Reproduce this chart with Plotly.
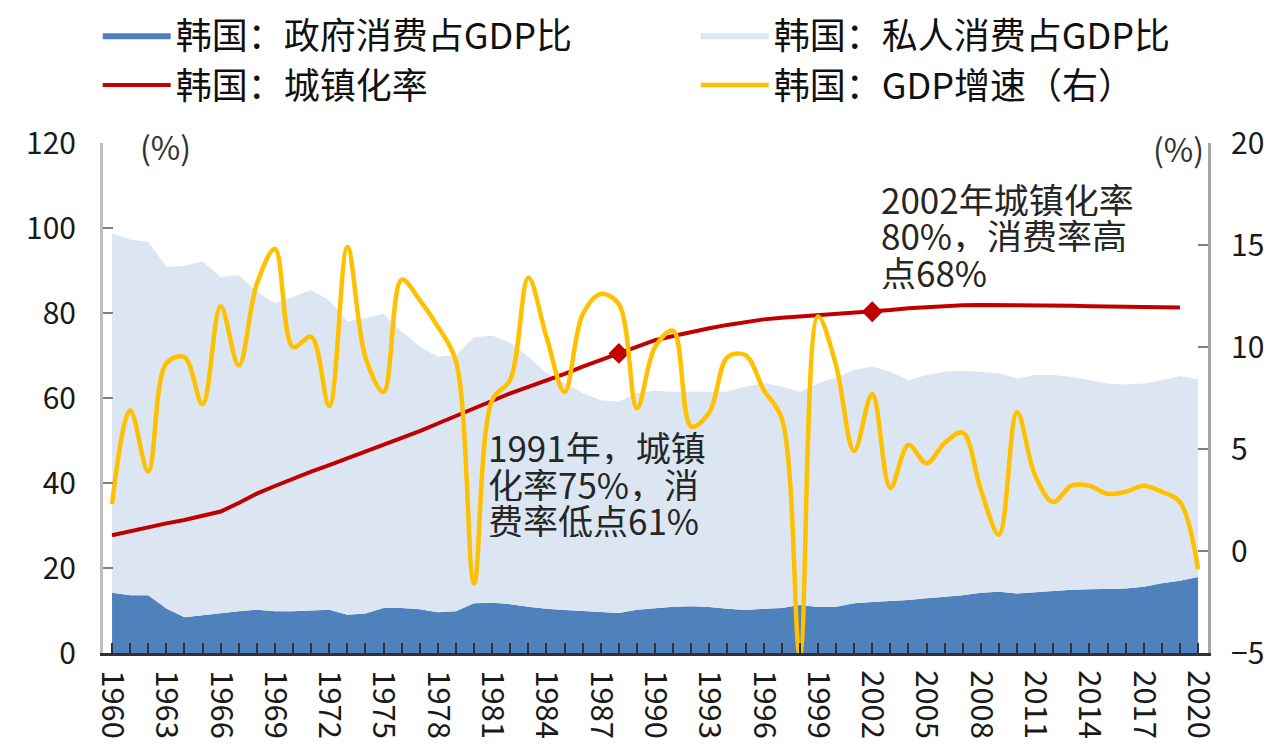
import plotly.graph_objects as go

years = list(range(1960, 2021))

gov_share = [14.2, 13.6, 13.6, 10.5, 8.4, 8.9, 9.4, 9.8, 10.2, 9.8,
             9.8, 10.0, 10.2, 9.0, 9.3, 10.6, 10.6, 10.3, 9.6, 9.8,
             11.7, 11.8, 11.5, 10.9, 10.4, 10.1, 9.9, 9.6, 9.4, 10.2,
             10.6, 10.9, 11.0, 10.8, 10.4, 10.1, 10.4, 10.6, 11.3, 10.8,
             10.9, 11.7, 12.0, 12.2, 12.5, 12.9, 13.3, 13.6, 14.2, 14.4,
             14.0, 14.3, 14.7, 14.9, 15.0, 15.1, 15.2, 15.6, 16.4, 17.0,
             17.9]

total_share = [98.7, 97.3, 96.7, 90.9, 91.1, 92.1, 88.5, 88.9, 85.0, 82.3,
               83.8, 85.4, 83.0, 78.0, 78.8, 79.8, 75.6, 72.1, 69.7, 70.1,
               74.3, 74.7, 73.0, 69.7, 65.9, 63.5, 61.2, 59.5, 59.1, 61.2,
               61.7, 61.5, 61.5, 61.4, 61.5, 62.7, 63.5, 62.7, 61.5, 63.5,
               64.8, 66.6, 67.4, 66.2, 64.2, 65.4, 66.2, 66.4, 66.2, 65.8,
               64.6, 65.4, 65.4, 65.0, 64.2, 63.4, 63.2, 63.4, 64.2, 65.2,
               64.4]

private_share = [round(t - g, 1) for t, g in zip(total_share, gov_share)]

urban_years = list(range(1960, 2020))
urban_rate = [27.7, 28.7, 29.6, 30.5, 31.3, 32.3, 33.3, 35.3, 37.5, 39.3,
              41.1, 42.7, 44.2, 45.8, 47.4, 48.9, 50.5, 52.2, 54.0, 55.8,
              57.6, 59.5, 61.1, 62.6, 64.1, 65.7, 67.4, 69.0, 70.5, 72.1,
              73.6, 74.6, 75.6, 76.4, 77.2, 77.9, 78.5, 78.9, 79.2, 79.4,
              79.6, 79.9, 80.3, 80.7, 81.1, 81.4, 81.6, 81.8, 81.9, 81.9,
              81.9, 81.9, 81.8, 81.7, 81.6, 81.5, 81.5, 81.4, 81.3, 81.3]

gdp_growth = [2.3, 6.9, 3.9, 9.2, 9.5, 7.2, 12.0, 9.1, 13.1, 14.8,
              10.0, 10.5, 7.1, 14.9, 9.5, 7.8, 13.3, 12.3, 11.0, 9.3,
              -1.6, 7.4, 8.4, 13.4, 10.5, 7.8, 11.6, 12.6, 12.1, 7.0,
              10.0, 10.8, 6.1, 6.8, 9.5, 9.6, 7.9, 6.5, -5.1, 11.5,
              9.1, 4.9, 7.7, 3.1, 5.2, 4.3, 5.3, 5.8, 3.0, 0.8,
              6.8, 3.7, 2.4, 3.2, 3.2, 2.8, 2.9, 3.2, 2.9, 2.4,
              -0.9]

marker_years = [1988, 2002]
marker_vals = [70.5, 80.3]

x_tick_vals = list(range(1960, 2021, 3))
x_tick_text = [str(v) for v in x_tick_vals]

note1_lines = ["1991年，城镇", "化率75%，消", "费率低点61%"]
note2_lines = ["2002年城镇化率", "80%，消费率高", "点68%"]

FONT = "Noto Sans CJK SC"

fig = go.Figure()

fig.add_trace(go.Scatter(
    x=years, y=gov_share, name="韩国：政府消费占GDP比",
    stackgroup="cons", mode="lines", line=dict(width=0, color="#4F81BD"),
    fillcolor="#4F81BD"))
fig.add_trace(go.Scatter(
    x=years, y=private_share, name="韩国：私人消费占GDP比",
    stackgroup="cons", mode="lines", line=dict(width=0, color="#DCE6F2"),
    fillcolor="#DCE6F2"))
fig.add_trace(go.Scatter(
    x=urban_years, y=urban_rate, name="韩国：城镇化率",
    mode="lines", line=dict(color="#C00000", width=4)))
fig.add_trace(go.Scatter(
    x=years, y=gdp_growth, name="韩国：GDP增速（右）", yaxis="y2",
    mode="lines", line=dict(color="#FFC000", width=4.5, shape="spline", smoothing=1)))
fig.add_trace(go.Scatter(
    x=marker_years, y=marker_vals, mode="markers", showlegend=False,
    marker=dict(symbol="diamond", size=16, color="#C00000")))

fig.update_layout(
    width=1267, height=742,
    margin=dict(l=95, r=67, t=135, b=97, autoexpand=False),
    paper_bgcolor="white", plot_bgcolor="white",
    font=dict(family=FONT, size=30, color="#1a1a1a"),
    showlegend=True,
    legend=dict(
        orientation="h", x=-0.0048, xanchor="left", y=1.27, yanchor="top",
        entrywidth=515, entrywidthmode="pixels", itemwidth=68,
        font=dict(family=FONT, size=36, color="#111111"),
        bgcolor="rgba(0,0,0,0)", traceorder="normal",
    ),
    xaxis=dict(
        range=[1959.5, 2020.55], tickmode="array", tickvals=x_tick_vals,
        ticktext=x_tick_text, tickangle=90, ticks="inside", ticklen=10,
        tickwidth=2, tickcolor="#2b3340", automargin=False,
        minor=dict(dtick=1, tick0=1960, ticks="inside", ticklen=10, tickwidth=2, tickcolor="#2b3340"),
        showline=True, linecolor="#2b3340", linewidth=3,
        showgrid=False, zeroline=False,
        tickfont=dict(family=FONT, size=31, color="#1a1a1a"),
        ticklabelstandoff=8,
    ),
    yaxis=dict(
        range=[0, 120], dtick=20, ticks="inside", ticklen=10, tickwidth=2,
        tickcolor="#808080", showline=True, linecolor="#BFBFBF", linewidth=3,
        showgrid=False, zeroline=False, automargin=False,
        tickfont=dict(family=FONT, size=30, color="#1a1a1a"),
        ticklabelstandoff=18,
    ),
    yaxis2=dict(
        range=[-5, 20], dtick=5, overlaying="y", side="right", ticks="inside",
        ticklen=10, tickwidth=2, tickcolor="#808080", showline=True,
        linecolor="#A6A6A6", linewidth=3, showgrid=False, zeroline=False,
        automargin=False,
        tickfont=dict(family=FONT, size=30, color="#1a1a1a"),
        ticklabelstandoff=14,
    ),
)

fig.add_annotation(x=0.057, y=0.995, xref="paper", yref="paper", text="(%)",
                   showarrow=False, xanchor="center", yanchor="middle",
                   font=dict(family=FONT, size=32, color="#333333"))
fig.add_annotation(x=0.973, y=0.99, xref="paper", yref="paper", text="(%)",
                   showarrow=False, xanchor="center", yanchor="middle",
                   font=dict(family=FONT, size=32, color="#333333"))

# annotation blocks, one line each (line pitch ~36-37px on the left axis scale)
for i, line in enumerate(note1_lines):
    fig.add_annotation(x=1980.67, y=48.6 - i * 8.55, xref="x", yref="y",
                       text=line, showarrow=False, xanchor="left", yanchor="middle",
                       align="left", height=36, valign="middle",
                       font=dict(family=FONT, size=35, color="#262626"))
for i, line in enumerate(note2_lines):
    fig.add_annotation(x=2002.35, y=107.1 - i * 8.55, xref="x", yref="y",
                       text=line, showarrow=False, xanchor="left", yanchor="middle",
                       align="left", height=36, valign="middle",
                       font=dict(family=FONT, size=35, color="#262626"))

fig.write_html("out.html")
